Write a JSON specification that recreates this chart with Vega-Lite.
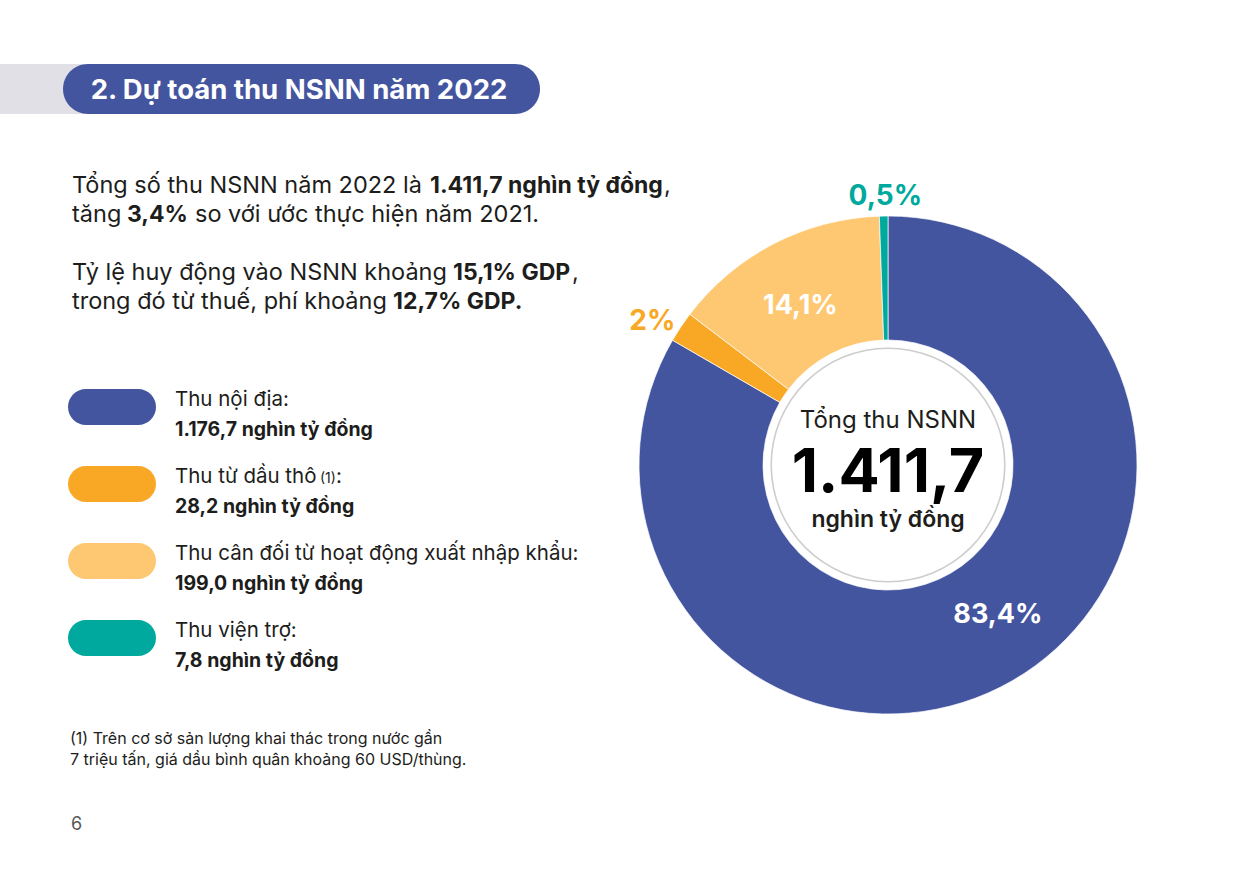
{
  "$schema": "https://vega.github.io/schema/vega-lite/v6.json",
  "background": "white",
  "padding": 0,
  "bounds": "flush",
  "spacing": 0,
  "config": {"view": {"stroke": null}, "font": "Inter"},
  "datasets": {
    "header": [{"title": "2. Dự toán thu NSNN năm 2022"}],
    "intro": [
      {"row": 1, "seg": "a", "text": "Tổng số thu NSNN năm 2022 là"},
      {"row": 1, "seg": "b", "text": "1.411,7 nghìn tỷ đồng"},
      {"row": 1, "seg": "c", "text": ","},
      {"row": 2, "seg": "a", "text": "tăng"},
      {"row": 2, "seg": "b", "text": "3,4%"},
      {"row": 2, "seg": "c", "text": "so với ước thực hiện năm 2021."},
      {"row": 4, "seg": "a", "text": "Tỷ lệ huy động vào NSNN khoảng"},
      {"row": 4, "seg": "b", "text": "15,1% GDP"},
      {"row": 4, "seg": "c", "text": ","},
      {"row": 5, "seg": "a", "text": "trong đó từ thuế, phí khoảng"},
      {"row": 5, "seg": "b", "text": "12,7% GDP."}
    ],
    "revenue": [
      {"order": 1, "category": "Thu nội địa", "label": "Thu nội địa:", "note": "", "value": 1176.7, "valueText": "1.176,7 nghìn tỷ đồng", "pct": "83,4%"},
      {"order": 2, "category": "Thu từ dầu thô", "label": "Thu từ dầu thô", "note": "(1)", "value": 28.2, "valueText": "28,2 nghìn tỷ đồng", "pct": "2%"},
      {"order": 3, "category": "Thu cân đối từ hoạt động xuất nhập khẩu", "label": "Thu cân đối từ hoạt động xuất nhập khẩu:", "note": "", "value": 199.0, "valueText": "199,0 nghìn tỷ đồng", "pct": "14,1%"},
      {"order": 4, "category": "Thu viện trợ", "label": "Thu viện trợ:", "note": "", "value": 7.8, "valueText": "7,8 nghìn tỷ đồng", "pct": "0,5%"}
    ],
    "footnote": [
      {"line": 1, "text": "(1) Trên cơ sở sản lượng khai thác trong nước gần"},
      {"line": 2, "text": "7 triệu tấn, giá dầu bình quân khoảng 60 USD/thùng."}
    ],
    "page": [{"text": "6"}],
    "center": [
      {"role": "caption", "text": "Tổng thu NSNN"},
      {"role": "total", "text": "1.411,7"},
      {"role": "unit", "text": "nghìn tỷ đồng"}
    ]
  },
  "hconcat": [
    {
      "width": 640,
      "height": 874,
      "layer": [
        {"data": {"name": "header"}, "mark": {"type": "rect", "color": "#e1e0e6"},
         "encoding": {"x": {"value": 0}, "x2": {"value": 90}, "y": {"value": 64}, "y2": {"value": 114}}},
        {"data": {"name": "header"}, "mark": {"type": "rect", "color": "#44559f", "cornerRadius": 25},
         "encoding": {"x": {"value": 63}, "x2": {"value": 540}, "y": {"value": 64}, "y2": {"value": 114}}},
        {"data": {"name": "header"}, "mark": {"type": "text", "color": "white", "fontSize": 27.5, "fontWeight": "bold", "align": "center", "baseline": "alphabetic"},
         "encoding": {"x": {"value": 299}, "y": {"value": 99}, "text": {"field": "title"}}},

        {"data": {"name": "intro"}, "transform": [{"filter": "datum.seg === 'a'"}],
         "mark": {"type": "text", "align": "left", "baseline": "alphabetic", "fontSize": 23.5, "color": "#1d1d1b"},
         "encoding": {"x": {"value": 72}, "y": {"field": "row", "type": "ordinal", "scale": {"type": "point", "domain": [1, 2, 3, 4, 5], "range": [193, 309], "padding": 0}, "axis": null}, "text": {"field": "text"}}},
        {"data": {"name": "intro"}, "transform": [{"filter": "datum.row === 1 && datum.seg === 'b'"}],
         "mark": {"type": "text", "align": "left", "baseline": "alphabetic", "fontSize": 23, "fontWeight": "bold", "color": "#1d1d1b"},
         "encoding": {"x": {"value": 430}, "y": {"field": "row", "type": "ordinal", "scale": {"type": "point", "domain": [1, 2, 3, 4, 5], "range": [193, 309], "padding": 0}, "axis": null}, "text": {"field": "text"}}},
        {"data": {"name": "intro"}, "transform": [{"filter": "datum.row === 1 && datum.seg === 'c'"}],
         "mark": {"type": "text", "align": "left", "baseline": "alphabetic", "fontSize": 23.5, "color": "#1d1d1b"},
         "encoding": {"x": {"value": 664}, "y": {"field": "row", "type": "ordinal", "scale": {"type": "point", "domain": [1, 2, 3, 4, 5], "range": [193, 309], "padding": 0}, "axis": null}, "text": {"field": "text"}}},
        {"data": {"name": "intro"}, "transform": [{"filter": "datum.row === 2 && datum.seg === 'b'"}],
         "mark": {"type": "text", "align": "left", "baseline": "alphabetic", "fontSize": 23, "fontWeight": "bold", "color": "#1d1d1b"},
         "encoding": {"x": {"value": 127}, "y": {"field": "row", "type": "ordinal", "scale": {"type": "point", "domain": [1, 2, 3, 4, 5], "range": [193, 309], "padding": 0}, "axis": null}, "text": {"field": "text"}}},
        {"data": {"name": "intro"}, "transform": [{"filter": "datum.row === 2 && datum.seg === 'c'"}],
         "mark": {"type": "text", "align": "left", "baseline": "alphabetic", "fontSize": 23.5, "color": "#1d1d1b"},
         "encoding": {"x": {"value": 195}, "y": {"field": "row", "type": "ordinal", "scale": {"type": "point", "domain": [1, 2, 3, 4, 5], "range": [193, 309], "padding": 0}, "axis": null}, "text": {"field": "text"}}},
        {"data": {"name": "intro"}, "transform": [{"filter": "datum.row === 4 && datum.seg === 'b'"}],
         "mark": {"type": "text", "align": "left", "baseline": "alphabetic", "fontSize": 23, "fontWeight": "bold", "color": "#1d1d1b"},
         "encoding": {"x": {"value": 453}, "y": {"field": "row", "type": "ordinal", "scale": {"type": "point", "domain": [1, 2, 3, 4, 5], "range": [193, 309], "padding": 0}, "axis": null}, "text": {"field": "text"}}},
        {"data": {"name": "intro"}, "transform": [{"filter": "datum.row === 4 && datum.seg === 'c'"}],
         "mark": {"type": "text", "align": "left", "baseline": "alphabetic", "fontSize": 23.5, "color": "#1d1d1b"},
         "encoding": {"x": {"value": 572}, "y": {"field": "row", "type": "ordinal", "scale": {"type": "point", "domain": [1, 2, 3, 4, 5], "range": [193, 309], "padding": 0}, "axis": null}, "text": {"field": "text"}}},
        {"data": {"name": "intro"}, "transform": [{"filter": "datum.row === 5 && datum.seg === 'b'"}],
         "mark": {"type": "text", "align": "left", "baseline": "alphabetic", "fontSize": 23, "fontWeight": "bold", "color": "#1d1d1b"},
         "encoding": {"x": {"value": 393}, "y": {"field": "row", "type": "ordinal", "scale": {"type": "point", "domain": [1, 2, 3, 4, 5], "range": [193, 309], "padding": 0}, "axis": null}, "text": {"field": "text"}}},

        {"data": {"name": "revenue"},
         "mark": {"type": "point", "shape": "M -0.591 -0.409 L 0.591 -0.409 A 0.409 0.409 0 0 1 0.591 0.409 L -0.591 0.409 A 0.409 0.409 0 0 1 -0.591 -0.409 Z", "size": 7744, "filled": true, "opacity": 1, "strokeWidth": 0},
         "encoding": {"x": {"value": 112},
                      "y": {"field": "category", "type": "nominal", "scale": {"type": "point", "domain": ["Thu nội địa", "Thu từ dầu thô", "Thu cân đối từ hoạt động xuất nhập khẩu", "Thu viện trợ"], "range": [407, 638], "padding": 0}, "axis": null},
                      "color": {"field": "category", "type": "nominal", "scale": {"domain": ["Thu nội địa", "Thu từ dầu thô", "Thu cân đối từ hoạt động xuất nhập khẩu", "Thu viện trợ"], "range": ["#44559f", "#f9a826", "#fec872", "#00a99d"]}, "legend": null}}},
        {"data": {"name": "revenue"},
         "mark": {"type": "text", "align": "left", "baseline": "alphabetic", "fontSize": 20.5, "color": "#1d1d1b", "dy": -1},
         "encoding": {"x": {"value": 175},
                      "y": {"field": "category", "type": "nominal", "scale": {"type": "point", "domain": ["Thu nội địa", "Thu từ dầu thô", "Thu cân đối từ hoạt động xuất nhập khẩu", "Thu viện trợ"], "range": [407, 638], "padding": 0}, "axis": null},
                      "text": {"field": "label"}}},
        {"data": {"name": "revenue"}, "transform": [{"filter": "datum.note !== ''"}],
         "mark": {"type": "text", "align": "left", "baseline": "alphabetic", "fontSize": 14, "color": "#1d1d1b", "dy": -1},
         "encoding": {"x": {"value": 320},
                      "y": {"field": "category", "type": "nominal", "scale": {"type": "point", "domain": ["Thu nội địa", "Thu từ dầu thô", "Thu cân đối từ hoạt động xuất nhập khẩu", "Thu viện trợ"], "range": [407, 638], "padding": 0}, "axis": null},
                      "text": {"field": "note"}}},
        {"data": {"name": "revenue"}, "transform": [{"filter": "datum.note !== ''"}],
         "mark": {"type": "text", "align": "left", "baseline": "alphabetic", "fontSize": 20.5, "color": "#1d1d1b", "dy": -1, "text": ":"},
         "encoding": {"x": {"value": 336},
                      "y": {"field": "category", "type": "nominal", "scale": {"type": "point", "domain": ["Thu nội địa", "Thu từ dầu thô", "Thu cân đối từ hoạt động xuất nhập khẩu", "Thu viện trợ"], "range": [407, 638], "padding": 0}, "axis": null}}},
        {"data": {"name": "revenue"},
         "mark": {"type": "text", "align": "left", "baseline": "alphabetic", "fontSize": 19.5, "fontWeight": "bold", "color": "#1d1d1b", "dy": 29},
         "encoding": {"x": {"value": 175},
                      "y": {"field": "category", "type": "nominal", "scale": {"type": "point", "domain": ["Thu nội địa", "Thu từ dầu thô", "Thu cân đối từ hoạt động xuất nhập khẩu", "Thu viện trợ"], "range": [407, 638], "padding": 0}, "axis": null},
                      "text": {"field": "valueText"}}},

        {"data": {"name": "footnote"},
         "mark": {"type": "text", "align": "left", "baseline": "alphabetic", "fontSize": 16, "color": "#1d1d1b"},
         "encoding": {"x": {"value": 70},
                      "y": {"field": "line", "type": "ordinal", "scale": {"type": "point", "domain": [1, 2], "range": [744, 765], "padding": 0}, "axis": null},
                      "text": {"field": "text"}}},
        {"data": {"name": "page"},
         "mark": {"type": "text", "align": "left", "baseline": "alphabetic", "fontSize": 18, "color": "#58585a"},
         "encoding": {"x": {"value": 71}, "y": {"value": 830}, "text": {"field": "text"}}}
      ],
      "resolve": {"scale": {"y": "independent", "x": "independent"}}
    },
    {
      "width": 496,
      "height": 874,
      "layer": [
        {"data": {"name": "revenue"},
         "mark": {"type": "arc", "outerRadius": 249, "innerRadius": 125, "stroke": "white", "strokeWidth": 0.7, "y": {"expr": "height / 2 + 28"}},
         "encoding": {"theta": {"field": "value", "type": "quantitative", "stack": true},
                      "order": {"field": "order", "type": "quantitative", "sort": "ascending"},
                      "color": {"field": "category", "type": "nominal", "scale": {"domain": ["Thu nội địa", "Thu từ dầu thô", "Thu cân đối từ hoạt động xuất nhập khẩu", "Thu viện trợ"], "range": ["#44559f", "#f9a826", "#fec872", "#00a99d"]}, "legend": null}}},
        {"data": {"name": "center"}, "transform": [{"filter": "datum.role === 'caption'"}],
         "mark": {"type": "arc", "theta": 0, "theta2": 6.2832, "innerRadius": 116, "outerRadius": 117.6, "color": "#cdcdcd", "y": {"expr": "height / 2 + 28"}},
         "encoding": {}},
        {"data": {"name": "center"}, "transform": [{"filter": "datum.role === 'caption'"}],
         "mark": {"type": "text", "align": "center", "baseline": "alphabetic", "fontSize": 24, "color": "#1d1d1b", "y": {"expr": "height / 2 + 28"}, "dy": -37},
         "encoding": {"text": {"field": "text"}}},
        {"data": {"name": "center"}, "transform": [{"filter": "datum.role === 'total'"}],
         "mark": {"type": "text", "align": "center", "baseline": "alphabetic", "fontSize": 61, "fontWeight": "bold", "color": "#000000", "y": {"expr": "height / 2 + 28"}, "dy": 27},
         "encoding": {"text": {"field": "text"}}},
        {"data": {"name": "center"}, "transform": [{"filter": "datum.role === 'unit'"}],
         "mark": {"type": "text", "align": "center", "baseline": "alphabetic", "fontSize": 23, "fontWeight": 600, "color": "#1d1d1b", "y": {"expr": "height / 2 + 28"}, "dy": 62},
         "encoding": {"text": {"field": "text"}}},

        {"data": {"name": "revenue"},
         "mark": {"type": "text", "radius": 184, "fontSize": 27, "fontWeight": "bold", "color": "white", "align": "center", "baseline": "middle", "dx": 18, "dy": -9, "y": {"expr": "height / 2 + 28"}},
         "encoding": {"theta": {"field": "value", "type": "quantitative", "stack": true},
                      "order": {"field": "order", "type": "quantitative", "sort": "ascending"},
                      "text": {"condition": {"test": "datum.order === 1", "field": "pct"}, "value": ""}}},
        {"data": {"name": "revenue"},
         "mark": {"type": "text", "radius": 184, "fontSize": 27, "fontWeight": "bold", "color": "white", "align": "center", "baseline": "middle", "dx": -3, "dy": 4, "y": {"expr": "height / 2 + 28"}},
         "encoding": {"theta": {"field": "value", "type": "quantitative", "stack": true},
                      "order": {"field": "order", "type": "quantitative", "sort": "ascending"},
                      "text": {"condition": {"test": "datum.order === 3", "field": "pct"}, "value": ""}}},
        {"data": {"name": "revenue"},
         "mark": {"type": "text", "radius": 276, "fontSize": 28, "fontWeight": "bold", "align": "center", "baseline": "middle", "dx": -6, "dy": 10, "y": {"expr": "height / 2 + 28"}},
         "encoding": {"theta": {"field": "value", "type": "quantitative", "stack": true},
                      "order": {"field": "order", "type": "quantitative", "sort": "ascending"},
                      "color": {"field": "category", "type": "nominal", "scale": {"domain": ["Thu nội địa", "Thu từ dầu thô", "Thu cân đối từ hoạt động xuất nhập khẩu", "Thu viện trợ"], "range": ["#44559f", "#f9a826", "#fec872", "#00a99d"]}, "legend": null},
                      "text": {"condition": {"test": "datum.order === 2", "field": "pct"}, "value": ""}}},
        {"data": {"name": "revenue"},
         "mark": {"type": "text", "radius": 268, "fontSize": 28, "fontWeight": "bold", "align": "center", "baseline": "middle", "dx": 2, "dy": 0, "y": {"expr": "height / 2 + 28"}},
         "encoding": {"theta": {"field": "value", "type": "quantitative", "stack": true},
                      "order": {"field": "order", "type": "quantitative", "sort": "ascending"},
                      "color": {"field": "category", "type": "nominal", "scale": {"domain": ["Thu nội địa", "Thu từ dầu thô", "Thu cân đối từ hoạt động xuất nhập khẩu", "Thu viện trợ"], "range": ["#44559f", "#f9a826", "#fec872", "#00a99d"]}, "legend": null},
                      "text": {"condition": {"test": "datum.order === 4", "field": "pct"}, "value": ""}}}
      ]
    }
  ]
}
